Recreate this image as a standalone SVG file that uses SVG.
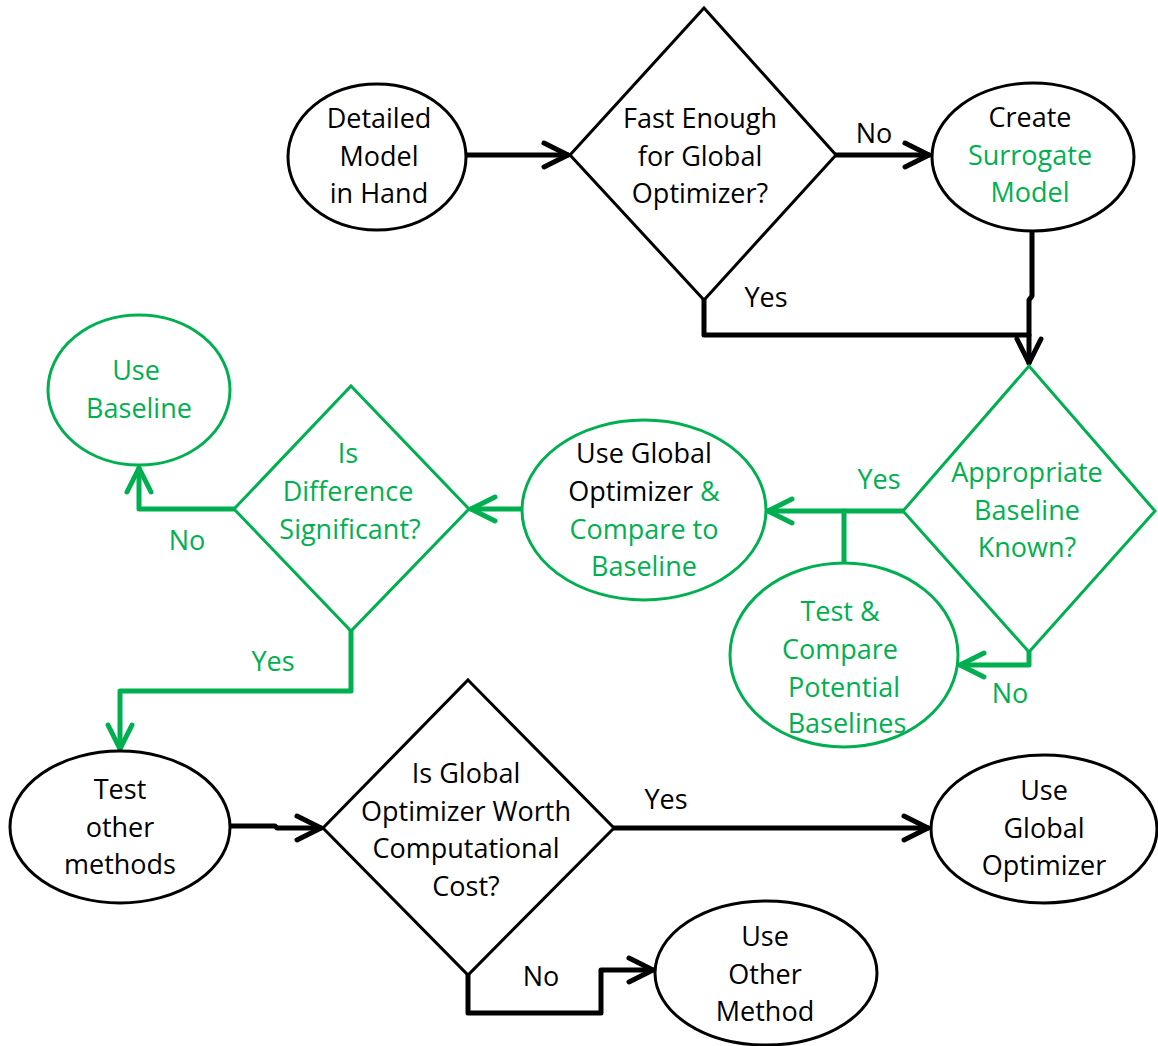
<svg xmlns="http://www.w3.org/2000/svg" width="1158" height="1046" viewBox="0 0 1158 1046">
  <style>
    text { font-family: "Open Sans", "Liberation Sans", sans-serif; font-size: 27px; text-anchor: middle; }
    .k { fill: #000000; }
    .g { fill: #00B050; }
    .nodeK { fill: #ffffff; stroke: #000000; stroke-width: 3; }
    .nodeG { fill: #ffffff; stroke: #00B050; stroke-width: 3; }
    .lk { fill: none; stroke: #000000; stroke-width: 5; stroke-linejoin: round; stroke-linecap: round; }
    .lg { fill: none; stroke: #00B050; stroke-width: 5; stroke-linejoin: round; stroke-linecap: round; }
  </style>
  <defs>
    <marker id="ak" markerUnits="userSpaceOnUse" markerWidth="40" markerHeight="40" viewBox="-30 -20 40 40" refX="0" refY="0" orient="auto">
      <path d="M-24,-12 L0,0 L-24,12" fill="none" stroke="#000000" stroke-width="5" stroke-linecap="round" stroke-linejoin="round"/>
    </marker>
    <marker id="ag" markerUnits="userSpaceOnUse" markerWidth="40" markerHeight="40" viewBox="-30 -20 40 40" refX="0" refY="0" orient="auto">
      <path d="M-24,-12 L0,0 L-24,12" fill="none" stroke="#00B050" stroke-width="5" stroke-linecap="round" stroke-linejoin="round"/>
    </marker>
  </defs>

  <!-- connectors -->
  <g id="connectors">
    <path class="lk" d="M466,155 L568,155" marker-end="url(#ak)"/>
    <path class="lk" d="M836,155 L929,155" marker-end="url(#ak)"/>
    <path class="lk" d="M1032,231 L1032,296 L1029,300 L1029,363" marker-end="url(#ak)"/>
    <path class="lk" d="M704,300 L704,335 L1029,335"/>
    <path class="lg" d="M903,511 L768,511" marker-end="url(#ag)"/>
    <path class="lg" d="M844,511 L844,563"/>
    <path class="lg" d="M1029,652 L1029,665 L960,665" marker-end="url(#ag)"/>
    <path class="lg" d="M522,509 L471,509" marker-end="url(#ag)"/>
    <path class="lg" d="M234,509 L139,509 L139,468" marker-end="url(#ag)"/>
    <path class="lg" d="M351,631 L351,691 L120,691 L120,749" marker-end="url(#ag)"/>
    <path class="lk" d="M231,826 L275,826 L277,828 L321,828" marker-end="url(#ak)"/>
    <path class="lk" d="M614,828 L928,828" marker-end="url(#ak)"/>
    <path class="lk" d="M468,975 L468,1013 L601,1013 L601,970 L653,970" marker-end="url(#ak)"/>
  </g>

  <!-- connector labels -->
  <g id="labels">
    <text class="k" x="874" y="143">No</text>
    <text class="k" x="766" y="307">Yes</text>
    <text class="g" x="879" y="489">Yes</text>
    <text class="g" x="1010" y="703">No</text>
    <text class="g" x="187" y="550">No</text>
    <text class="g" x="273" y="671">Yes</text>
    <text class="k" x="666" y="809">Yes</text>
    <text class="k" x="541" y="986">No</text>
  </g>

  <g id="detailed-model">
    <ellipse class="nodeK" cx="377" cy="157" rx="89" ry="73"/>
    <text class="k" x="379" y="128">Detailed</text>
    <text class="k" x="379" y="166">Model</text>
    <text class="k" x="379" y="203">in Hand</text>
  </g>

  <g id="fast-enough">
    <polygon class="nodeK" points="704,8 836,155 704,300 570,155"/>
    <text class="k" x="700" y="128">Fast Enough</text>
    <text class="k" x="700" y="166">for Global</text>
    <text class="k" x="700" y="203">Optimizer?</text>
  </g>

  <g id="create-surrogate">
    <ellipse class="nodeK" cx="1033" cy="157" rx="101" ry="74"/>
    <text class="k" x="1030" y="127">Create</text>
    <text class="g" x="1030" y="165">Surrogate</text>
    <text class="g" x="1030" y="202">Model</text>
  </g>

  <g id="baseline-known">
    <polygon class="nodeG" points="1029,366 1155,511 1029,652 903,511"/>
    <text class="g" x="1027" y="482">Appropriate</text>
    <text class="g" x="1027" y="520">Baseline</text>
    <text class="g" x="1027" y="557">Known?</text>
  </g>

  <g id="use-global-compare">
    <ellipse class="nodeG" cx="644" cy="510" rx="122" ry="90"/>
    <text class="k" x="644" y="463">Use Global</text>
    <text x="644" y="501"><tspan class="k">Optimizer </tspan><tspan class="g">&amp;</tspan></text>
    <text class="g" x="644" y="539">Compare to</text>
    <text class="g" x="644" y="576">Baseline</text>
  </g>

  <g id="test-compare-baselines">
    <ellipse class="nodeG" cx="844" cy="655" rx="114" ry="92"/>
    <text class="g" x="840" y="621">Test &amp;</text>
    <text class="g" x="840" y="659">Compare</text>
    <text class="g" x="844" y="697">Potential</text>
    <text class="g" x="847" y="733">Baselines</text>
  </g>

  <g id="difference-significant">
    <polygon class="nodeG" points="351,386 469,509 351,631 234,509"/>
    <text class="g" x="348" y="463">Is</text>
    <text class="g" x="348" y="501">Difference</text>
    <text class="g" x="350" y="539">Significant?</text>
  </g>

  <g id="use-baseline">
    <ellipse class="nodeG" cx="139" cy="390" rx="91" ry="75"/>
    <text class="g" x="136" y="380">Use</text>
    <text class="g" x="139" y="418">Baseline</text>
  </g>

  <g id="test-other-methods">
    <ellipse class="nodeK" cx="120" cy="827" rx="110" ry="76"/>
    <text class="k" x="120" y="799">Test</text>
    <text class="k" x="120" y="837">other</text>
    <text class="k" x="120" y="874">methods</text>
  </g>

  <g id="worth-cost">
    <polygon class="nodeK" points="468,680 614,828 468,975 323,828"/>
    <text class="k" x="466" y="783">Is Global</text>
    <text class="k" x="466" y="821">Optimizer Worth</text>
    <text class="k" x="466" y="858">Computational</text>
    <text class="k" x="466" y="896">Cost?</text>
  </g>

  <g id="use-global-optimizer">
    <ellipse class="nodeK" cx="1044" cy="829" rx="113" ry="74"/>
    <text class="k" x="1044" y="800">Use</text>
    <text class="k" x="1044" y="838">Global</text>
    <text class="k" x="1044" y="875">Optimizer</text>
  </g>

  <g id="use-other-method">
    <ellipse class="nodeK" cx="766" cy="973" rx="111" ry="72"/>
    <text class="k" x="765" y="946">Use</text>
    <text class="k" x="765" y="984">Other</text>
    <text class="k" x="765" y="1021">Method</text>
  </g>
</svg>
